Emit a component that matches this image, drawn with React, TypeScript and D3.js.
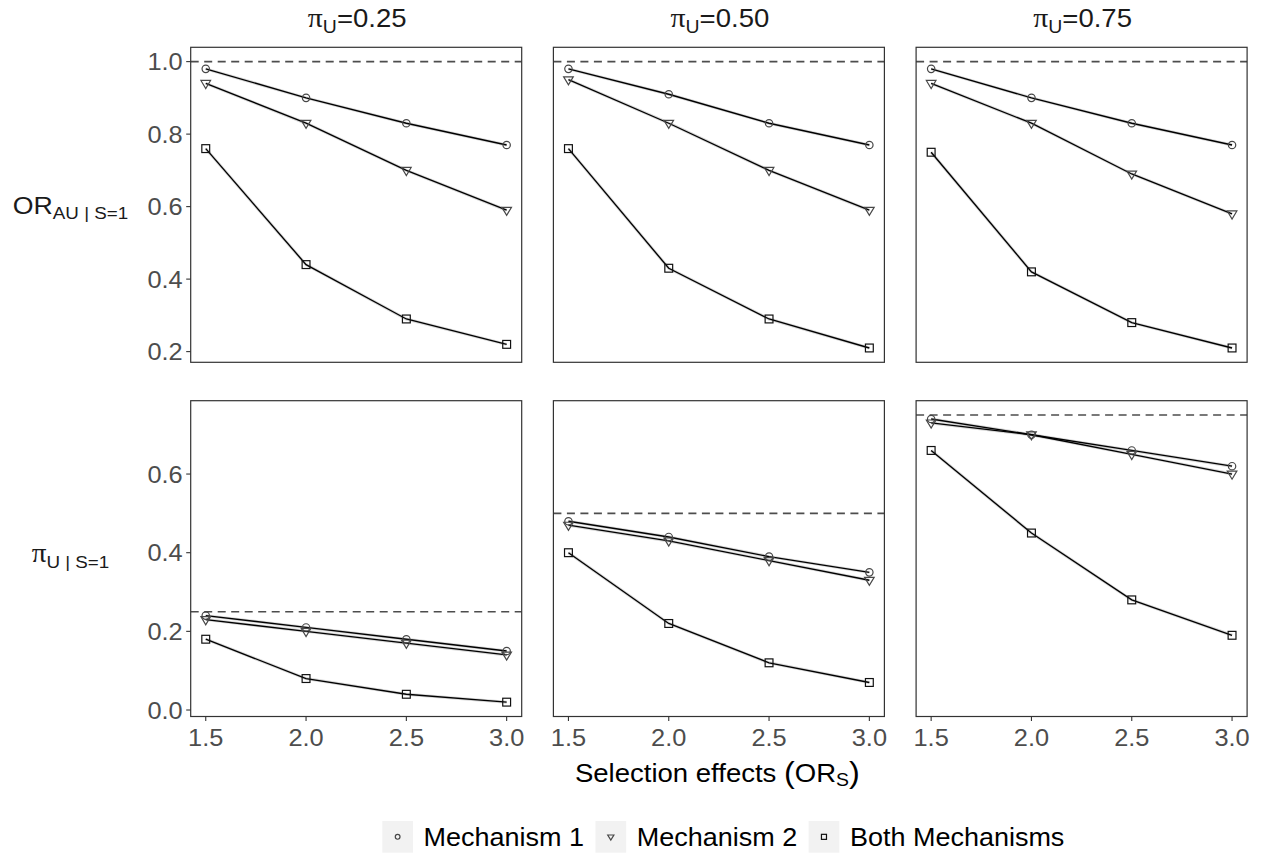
import React from "react";
import * as d3 from "d3";

// ---------- data ----------
const orsValues = [1.5, 2.0, 2.5, 3.0];
const piLabels = ["0.25", "0.50", "0.75"];
const piTrue = [0.25, 0.5, 0.75];
const seriesNames = ["Mechanism 1", "Mechanism 2", "Both Mechanisms"];

// Row 1: OR_AU|S=1, one array per column (pi_U = 0.25, 0.50, 0.75)
const orMech1 = [
  [0.98, 0.90, 0.83, 0.77],
  [0.98, 0.91, 0.83, 0.77],
  [0.98, 0.90, 0.83, 0.77],
];
const orMech2 = [
  [0.94, 0.83, 0.70, 0.59],
  [0.95, 0.83, 0.70, 0.59],
  [0.94, 0.83, 0.69, 0.58],
];
const orBoth = [
  [0.76, 0.44, 0.29, 0.22],
  [0.76, 0.43, 0.29, 0.21],
  [0.75, 0.42, 0.28, 0.21],
];
const orReference = 1.0;

// Row 2: pi_U|S=1
const piMech1 = [
  [0.24, 0.21, 0.18, 0.15],
  [0.48, 0.44, 0.39, 0.35],
  [0.74, 0.70, 0.66, 0.62],
];
const piMech2 = [
  [0.23, 0.20, 0.17, 0.14],
  [0.47, 0.43, 0.38, 0.33],
  [0.73, 0.70, 0.65, 0.60],
];
const piBoth = [
  [0.18, 0.08, 0.04, 0.02],
  [0.40, 0.22, 0.12, 0.07],
  [0.66, 0.45, 0.28, 0.19],
];

const xTicks = [1.5, 2.0, 2.5, 3.0];
const yTicksOR = [0.2, 0.4, 0.6, 0.8, 1.0];
const yTicksPi = [0.0, 0.2, 0.4, 0.6];

// ---------- layout / style ----------
const W = 1262;
const H = 856;
const FONT = "'Liberation Sans', Arial, Helvetica, sans-serif";
const SERIF = "'Liberation Serif', 'DejaVu Serif', serif";
const SX = 1.08; // slight horizontal stretch of text in the reference
const PANEL_LEFT = 190.7;
const PANEL_W = 331;
const PANEL_GAP = 31.7;
const ROW_TOP = [47.3, 400.7];
const ROW_H = [315, 315.8];
const TICK_COL = "#4d4d4d";
const SHAPES = ["circle", "triangle", "square"];
const SHAPE_COL = ["#474747", "#474747", "#111111"];

function expand(lo: number, hi: number) {
  const d = (hi - lo) * 0.05;
  return [lo - d, hi + d];
}

function Shape({ kind, x, y, s, color }: { kind: string; x: number; y: number; s: number; color: string }) {
  if (kind === "circle") {
    return <circle cx={x} cy={y} r={3.3 * s} fill="none" stroke={color} strokeWidth={1.2} />;
  }
  if (kind === "triangle") {
    const w = 4.3 * s;
    const h1 = 2.6 * s;
    const h2 = 4.6 * s;
    return (
      <path
        d={`M${x - w},${y - h1}L${x + w},${y - h1}L${x},${y + h2}Z`}
        fill="none"
        stroke={color}
        strokeWidth={1.2}
        strokeLinejoin="miter"
      />
    );
  }
  const a = 3.5 * s;
  return <rect x={x - a} y={y - a} width={2 * a} height={2 * a} fill="none" stroke={color} strokeWidth={1.2} />;
}

function measure(text: string, size: number) {
  if (typeof document === "undefined") return text.length * size * 0.55;
  const c = document.createElement("canvas");
  const ctx = c.getContext("2d");
  if (!ctx) return text.length * size * 0.55;
  ctx.font = `${size}px 'Liberation Sans'`;
  return ctx.measureText(text).width;
}

export default function App() {
  const rows = [
    { series: [orMech1, orMech2, orBoth], refs: piTrue.map(() => orReference), ticks: yTicksOR },
    { series: [piMech1, piMech2, piBoth], refs: piTrue, ticks: yTicksPi },
  ];

  const xScales = piLabels.map((_, c) => {
    const left = PANEL_LEFT + c * (PANEL_W + PANEL_GAP);
    return d3.scaleLinear().domain(expand(d3.min(orsValues)!, d3.max(orsValues)!)).range([left, left + PANEL_W]);
  });

  const yScales = rows.map((row, r) => {
    const all = row.series.flat(2).concat(row.refs);
    const [lo, hi] = expand(d3.min(all)!, d3.max(all)!);
    return d3.scaleLinear().domain([lo, hi]).range([ROW_TOP[r] + ROW_H[r], ROW_TOP[r]]);
  });

  const fmt = d3.format(".1f");
  const tickFont = 23.5;

  // legend layout
  const legFont = 25;
  const keySize = 30.7;
  const keyGap = 10.6;
  const itemGap = 11.3;
  const legWidths = seriesNames.map((n) => measure(n, legFont) * SX);
  const legTotal = legWidths.reduce((a, b) => a + b, 0) + seriesNames.length * (keySize + keyGap) + (seriesNames.length - 1) * itemGap;
  const plotCenter = (xScales[0].range()[0] + xScales[2].range()[1]) / 2;
  let legX = plotCenter + 4.5 - legTotal / 2;
  const legY = 821;
  const legendItems = seriesNames.map((n, i) => {
    const item = { name: n, x: legX, i };
    legX += keySize + keyGap + legWidths[i] + itemGap;
    return item;
  });

  return (
    <svg width={W} height={H} style={{ position: "absolute", left: 0, top: 0, background: "#fff" }} fontFamily={FONT}>
      <rect x={0} y={0} width={W} height={H} fill="#fff" />

      {/* strip titles */}
      {piLabels.map((lab, c) => {
        const [a, b] = xScales[c].range();
        return (
          <text key={"st" + c} transform={`translate(${(a + b) / 2 + 1},27) scale(${SX},1)`} textAnchor="middle" fontSize={25.5} fill="#1a1a1a">
            <tspan fontFamily={SERIF} fontSize={27.5}>π</tspan>
            <tspan fontSize={18} dy={5.5}>U</tspan>
            <tspan dy={-5.5}>={lab}</tspan>
          </text>
        );
      })}

      {/* row labels */}
      <text transform={`translate(70.5,213.5) scale(${SX},1)`} textAnchor="middle" fontSize={24.7} fill="#1a1a1a">
        <tspan>OR</tspan>
        <tspan fontSize={17.4} dy={5}>AU | S=1</tspan>
      </text>
      <text transform={`translate(70.5,562) scale(${SX},1)`} textAnchor="middle" fontSize={24.7} fill="#1a1a1a">
        <tspan fontFamily={SERIF} fontSize={27}>π</tspan>
        <tspan fontSize={17.4} dy={6}>U | S=1</tspan>
      </text>

      {rows.map((row, r) =>
        piLabels.map((_, c) => {
          const xs = xScales[c];
          const ys = yScales[r];
          const [x0, x1] = xs.range();
          const [y1, y0] = ys.range();
          const line = d3
            .line<number>()
            .x((_, i) => xs(orsValues[i]))
            .y((v) => ys(v));
          return (
            <g key={`p${r}-${c}`}>
              <rect x={x0} y={y0} width={x1 - x0} height={y1 - y0} fill="#fff" />
              <line x1={x0} x2={x1} y1={ys(row.refs[c])} y2={ys(row.refs[c])} stroke="#4d4d4d" strokeWidth={1.6} strokeDasharray="8,5.5" />
              {row.series.map((s, k) => (
                <path key={"l" + k} d={line(s[c]) || ""} fill="none" stroke="#8a8a8a" strokeOpacity={0.35} strokeWidth={3} />
              ))}
              {row.series.map((s, k) => (
                <path key={"m" + k} d={line(s[c]) || ""} fill="none" stroke="#000" strokeWidth={1.35} />
              ))}
              {row.series.map((s, k) =>
                s[c].map((v, i) => (
                  <Shape key={`s${k}-${i}`} kind={SHAPES[k]} x={xs(orsValues[i])} y={ys(v)} s={1.12} color={SHAPE_COL[k]} />
                ))
              )}
              <rect x={x0} y={y0} width={x1 - x0} height={y1 - y0} fill="none" stroke="#333" strokeWidth={1.2} />
              {/* y axis on left column */}
              {c === 0 &&
                row.ticks.map((t) => (
                  <g key={"yt" + t}>
                    <line x1={x0 - 4.5} x2={x0} y1={ys(t)} y2={ys(t)} stroke="#333" strokeWidth={1.1} />
                    <text transform={`translate(${x0 - 8},${ys(t) + 8.5}) scale(${SX},1)`} textAnchor="end" fontSize={tickFont} fill={TICK_COL}>
                      {fmt(t)}
                    </text>
                  </g>
                ))}
              {/* x axis on bottom row */}
              {r === rows.length - 1 &&
                xTicks.map((t) => (
                  <g key={"xt" + t}>
                    <line x1={xs(t)} x2={xs(t)} y1={y1} y2={y1 + 4.5} stroke="#333" strokeWidth={1.1} />
                    <text transform={`translate(${xs(t)},${y1 + 29}) scale(${SX},1)`} textAnchor="middle" fontSize={tickFont} fill={TICK_COL}>
                      {fmt(t)}
                    </text>
                  </g>
                ))}
            </g>
          );
        })
      )}

      {/* x axis title */}
      <text transform={`translate(${plotCenter - 1.5},781.5) scale(${SX},1)`} textAnchor="middle" fontSize={25.5} fill="#000">
        <tspan>Selection effects </tspan>
        <tspan fontSize={30} dy={1}>(</tspan>
        <tspan dy={-1}>OR</tspan>
        <tspan fontSize={18} dy={4}>S</tspan>
        <tspan fontSize={30} dy={-3}>)</tspan>
      </text>

      {/* legend */}
      {legendItems.map((it) => (
        <g key={it.name}>
          <rect x={it.x} y={legY} width={keySize} height={31.7} fill="#f2f2f2" />
          <Shape kind={SHAPES[it.i]} x={it.x + keySize / 2} y={legY + 31.7 / 2} s={0.72} color={SHAPE_COL[it.i]} />
          <text transform={`translate(${it.x + keySize + keyGap},${legY + 24.5}) scale(${SX},1)`} fontSize={legFont} fill="#000">
            {it.name}
          </text>
        </g>
      ))}
    </svg>
  );
}
